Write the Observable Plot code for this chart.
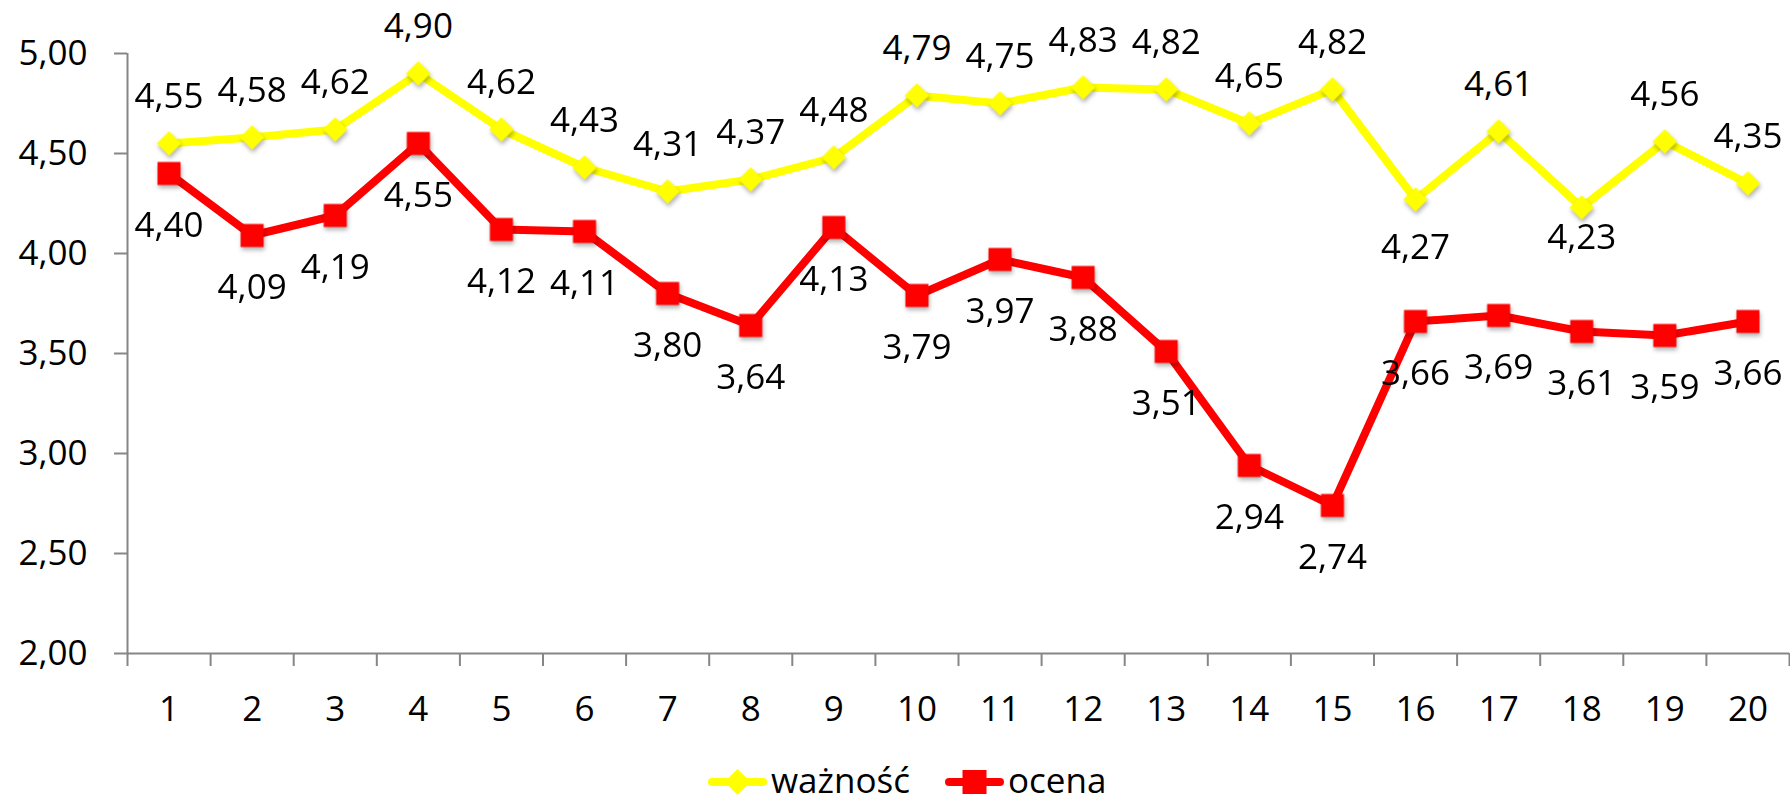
<!DOCTYPE html>
<html><head><meta charset="utf-8">
<script src="https://cdn.jsdelivr.net/npm/d3@7"></script>
<script src="https://cdn.jsdelivr.net/npm/@observablehq/plot@0.6"></script>
<style>
body{margin:0;background:#fff;font-family:"Open Sans",sans-serif;}
#chart svg{display:block}
#legend{position:relative;height:45px;width:1790px}
#legend .sw{position:absolute}
#legend .lt{position:absolute;font-size:35px;line-height:35px;color:#000;white-space:nowrap}
</style></head><body>
<div id="chart"></div>
<div id="legend"></div>
<script>
const categories = [1,2,3,4,5,6,7,8,9,10,11,12,13,14,15,16,17,18,19,20];
const waznosc = [4.55,4.58,4.62,4.90,4.62,4.43,4.31,4.37,4.48,4.79,4.75,4.83,4.82,4.65,4.82,4.27,4.61,4.23,4.56,4.35];
const ocena = [4.40,4.09,4.19,4.55,4.12,4.11,3.80,3.64,4.13,3.79,3.97,3.88,3.51,2.94,2.74,3.66,3.69,3.61,3.59,3.66];
const yTicks = [2,2.5,3,3.5,4,4.5,5];
const seriesNames = ["ważność","ocena"];
const colors = ["#FFFF00","#FF0000"];

// label placement (pixel offsets from point), exceptions for ważność
const wazDyDefault = -47, ocenaDy = 52;
const wazDyExceptions = {16: 48, 18: 30};

const fmt = v => d3.format(".2f")(v).replace(".", ",");
const rows = categories.map((c,i)=>({c, w: waznosc[i], o: ocena[i]}));
const bounds = d3.range(0.5, categories.length + 1, 1);
const axisColor = "#868686";

const wazGroups = d3.groups(rows, r => wazDyExceptions[r.c] ?? wazDyDefault);

const plot = Plot.plot({
  width: 1790, height: 755,
  marginTop: 53, marginLeft: 127, marginRight: 1, marginBottom: 102,
  style: {fontFamily: '"Open Sans", sans-serif', fontSize: "35px", color: "#000", background: "#fff"},
  x: {domain: [0.5, categories.length + 0.5], axis: null, label: null},
  y: {domain: [2, 5], axis: null, label: null},
  marks: [
    Plot.axisY(yTicks, {tickSize: 13, tickPadding: 27, tickFormat: fmt, stroke: axisColor, strokeWidth: 2, fill: "#000", fontSize: 35, label: null}),
    Plot.axisX(bounds, {tickSize: 13, tickFormat: () => "", stroke: axisColor, strokeWidth: 2, label: null}),
    Plot.axisX(categories, {tickSize: 0, tickPadding: 43, tickFormat: d => String(d), fill: "#000", fontSize: 35, label: null}),
    Plot.ruleY([2], {stroke: axisColor, strokeWidth: 2}),
    Plot.ruleX([0.5], {y1: 2, y2: 5, stroke: axisColor, strokeWidth: 2}),
    Plot.line(rows, {x: "c", y: "w", stroke: colors[0], strokeWidth: 8, strokeLinejoin: "round"}),
    Plot.dot(rows, {x: "c", y: "w", symbol: "diamond2", r: 11, fill: colors[0], stroke: "none", className: "mk"}),
    Plot.line(rows, {x: "c", y: "o", stroke: colors[1], strokeWidth: 8, strokeLinejoin: "round"}),
    Plot.dot(rows, {x: "c", y: "o", symbol: "square", r: 13, fill: colors[1], stroke: "none", className: "mk"}),
    ...wazGroups.map(([dy, g]) => Plot.text(g, {x: "c", y: "w", text: d => fmt(d.w), dy, fill: "#000", fontSize: 35})),
    Plot.text(rows, {x: "c", y: "o", text: d => fmt(d.o), dy: ocenaDy, fill: "#000", fontSize: 35})
  ]
});
d3.select(plot).selectAll(".mk").style("filter", "drop-shadow(1px 3px 2px rgba(0,0,0,0.3))");
document.getElementById("chart").appendChild(plot);

// legend
const legend = d3.select("#legend");
const items = [
  {name: seriesNames[0], color: colors[0], sym: "diamond", left: 708, textLeft: 771},
  {name: seriesNames[1], color: colors[1], sym: "square", left: 945, textLeft: 1008}
];
items.forEach(it => {
  const s = legend.append("svg").attr("class", "sw").attr("width", 60).attr("height", 30)
    .style("left", it.left + "px").style("top", "12px");
  s.append("line").attr("x1", 4).attr("x2", 55).attr("y1", 15).attr("y2", 15)
    .attr("stroke", it.color).attr("stroke-width", 8).attr("stroke-linecap", "round");
  if (it.sym === "diamond") {
    s.append("path").attr("d", "M29.5,2L42.5,15L29.5,28L16.5,15Z").attr("fill", it.color);
  } else {
    s.append("rect").attr("x", 17.5).attr("y", 3).attr("width", 24).attr("height", 24).attr("fill", it.color);
  }
  legend.append("span").attr("class", "lt").style("left", it.textLeft + "px").style("top", "7px").text(it.name);
});
</script>
</body></html>
